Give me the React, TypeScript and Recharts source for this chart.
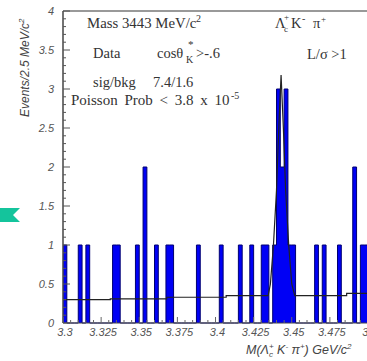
import { ComposedChart, Area, Line, XAxis, YAxis, ReferenceLine } from 'recharts';

// histogram: 2.5 MeV bins starting at 3.3 GeV
const binLow = 3.3;
const binWidth = 0.0025;
const counts = [
  1, 0, 0, 0, 1, 0, 1, 0, 0, 0,
  0, 0, 0, 1, 1, 0, 0, 0, 0, 1,
  0, 2, 0, 0, 1, 0, 0, 1, 1, 0,
  0, 0, 0, 0, 0, 1, 0, 0, 0, 0,
  0, 1, 0, 0, 0, 0, 1, 0, 0, 1,
  0, 0, 1, 1, 0, 1, 3, 2, 3, 1,
  1, 0, 0, 0, 0, 0, 1, 0, 1, 0,
  0, 0, 1, 0, 0, 0, 2, 0, 1, 1,
];

// fitted curve (gaussian + background)
const fitMass = [
  3.3, 3.331, 3.331, 3.368, 3.368, 3.407, 3.407, 3.4345, 3.436, 3.438, 3.44,
  3.4415, 3.443, 3.4445, 3.446, 3.448, 3.45, 3.452, 3.486, 3.486, 3.5,
];
const fitValue = [
  0.3, 0.3, 0.31, 0.31, 0.33, 0.33, 0.35, 0.35, 0.5, 1.0, 1.7,
  2.5, 3.18, 2.5, 1.7, 1.0, 0.5, 0.35, 0.35, 0.38, 0.38,
];

const xLabels = [3.3, 3.325, 3.35, 3.375, 3.4, 3.425, 3.45, 3.475, 3.5];
const yLabels = [0, 0.5, 1, 1.5, 2, 2.5, 3, 3.5, 4];

const histRows = counts.concat([0]).map((n, i) => ({ m: +(binLow + i * binWidth).toFixed(4), n }));
const fitRows = fitMass.map((m, i) => ({ m, fit: fitValue[i] }));

const xTicks = Array.from({ length: 41 }, (_, i) => +(3.3 + i * 0.005).toFixed(3));
const yTicks = Array.from({ length: 41 }, (_, i) => i / 10);

const tickFont = { fontFamily: 'Liberation Sans, Arial, sans-serif', fontStyle: 'italic', fontSize: 11, fill: '#555' };
const serif = { fontFamily: 'Liberation Serif, Times New Roman, serif', fontSize: 14.5, fill: '#333' };

const XTick = ({ x, y, payload }: any) => {
  const major = xLabels.includes(payload.value);
  return (
    <g>
      <line x1={x} x2={x} y1={y} y2={y - (major ? 6 : 3)} stroke="#666" />
      {major && (
        <text x={x + 2} y={y + 13} textAnchor="middle" {...tickFont}>
          {payload.value}
        </text>
      )}
    </g>
  );
};

const YTick = ({ x, y, payload }: any) => {
  const major = yLabels.includes(payload.value);
  return (
    <g>
      <line x1={x} x2={x + (major ? 7 : 3)} y1={y} y2={y} stroke="#555" />
      {major && (
        <text x={x - 9} y={y + 4} textAnchor="end" {...tickFont}>
          {payload.value}
        </text>
      )}
    </g>
  );
};

export default function App() {
  return (
    <div style={{ position: 'absolute', left: 0, top: 0, width: 367, height: 361, overflow: 'hidden', background: '#fff' }}>
      <ComposedChart width={372} height={361} data={histRows} margin={{ top: 11, right: 4, left: 0, bottom: 0 }}>
        <XAxis
          dataKey="m"
          type="number"
          domain={[3.3, 3.5]}
          ticks={xTicks}
          interval={0}
          tick={<XTick />}
          tickLine={false}
          tickSize={0}
          tickMargin={0}
          height={38}
          axisLine={{ stroke: '#444' }}
        />
        <YAxis
          type="number"
          domain={[0, 4]}
          ticks={yTicks}
          interval={0}
          tick={<YTick />}
          tickLine={false}
          tickSize={0}
          tickMargin={0}
          width={63}
          axisLine={{ stroke: '#444', strokeWidth: 1.5 }}
        />
        <ReferenceLine y={4} stroke="#777" strokeWidth={1.5} />
        <Area
          type="stepAfter"
          dataKey="n"
          stroke="#000070"
          strokeWidth={1}
          fill="#0000f5"
          fillOpacity={1}
          dot={false}
          activeDot={false}
          isAnimationActive={false}
        />
        <Line
          data={fitRows}
          type="linear"
          dataKey="fit"
          stroke="#222"
          strokeWidth={1.2}
          dot={false}
          activeDot={false}
          isAnimationActive={false}
        />
      </ComposedChart>
      <svg width={367} height={361} style={{ position: 'absolute', left: 0, top: 0, pointerEvents: 'none' }}>
        <polygon points="0,208 20,208 13,215 20,222 0,222" fill="#14c49c" />

        <text x={87} y={28} {...serif} fontSize={14.8}>
          Mass 3443 MeV/c
        </text>
        <text x={196} y={22} {...serif} fontSize={10}>2</text>
        <text x={275} y={28} {...serif}>Λ</text>
        <text x={284} y={32} {...serif} fontSize={9}>c</text>
        <text x={284} y={20} {...serif} fontSize={9}>+</text>
        <text x={291} y={28} {...serif}>K</text>
        <text x={302} y={22} {...serif} fontSize={10}>-</text>
        <text x={313} y={28} {...serif}>π</text>
        <text x={321} y={22} {...serif} fontSize={9}>+</text>

        <text x={93} y={58} {...serif}>Data</text>
        <text x={157} y={58} {...serif}>cosθ</text>
        <text x={186} y={63} {...serif} fontSize={10}>K</text>
        <text x={188} y={48} {...serif} fontSize={11}>*</text>
        <text x={196} y={58} {...serif}>&gt;-.6</text>
        <text x={307} y={59} {...serif}>L/σ &gt;1</text>

        <text x={93} y={87} {...serif}>sig/bkg</text>
        <text x={153} y={87} {...serif}>7.4/1.6</text>
        <text x={71} y={105} {...serif} fontSize={15} style={{ wordSpacing: 3 }}>
          Poisson Prob &lt; 3.8 x 10
        </text>
        <text x={231} y={99} {...serif} fontSize={10}>-5</text>

        <text transform="translate(29,117) rotate(-90)" {...tickFont} fontSize={12} fill="#444">
          Events/2.5 MeV/c<tspan dy={-5} fontSize={8}>2</tspan>
        </text>
        <text x={246} y={354} {...tickFont} fontSize={12.5} fill="#444">
          M(Λ<tspan dy={3} fontSize={8}>c</tspan>
          <tspan dy={-8} dx={-4} fontSize={8}>+</tspan>
          <tspan dy={5}> K</tspan>
          <tspan dy={-5} fontSize={8}>-</tspan>
          <tspan dy={5}> π</tspan>
          <tspan dy={-5} fontSize={8}>+</tspan>
          <tspan dy={5}>) GeV/c</tspan>
          <tspan dy={-5} fontSize={8}>2</tspan>
        </text>
      </svg>
    </div>
  );
}
